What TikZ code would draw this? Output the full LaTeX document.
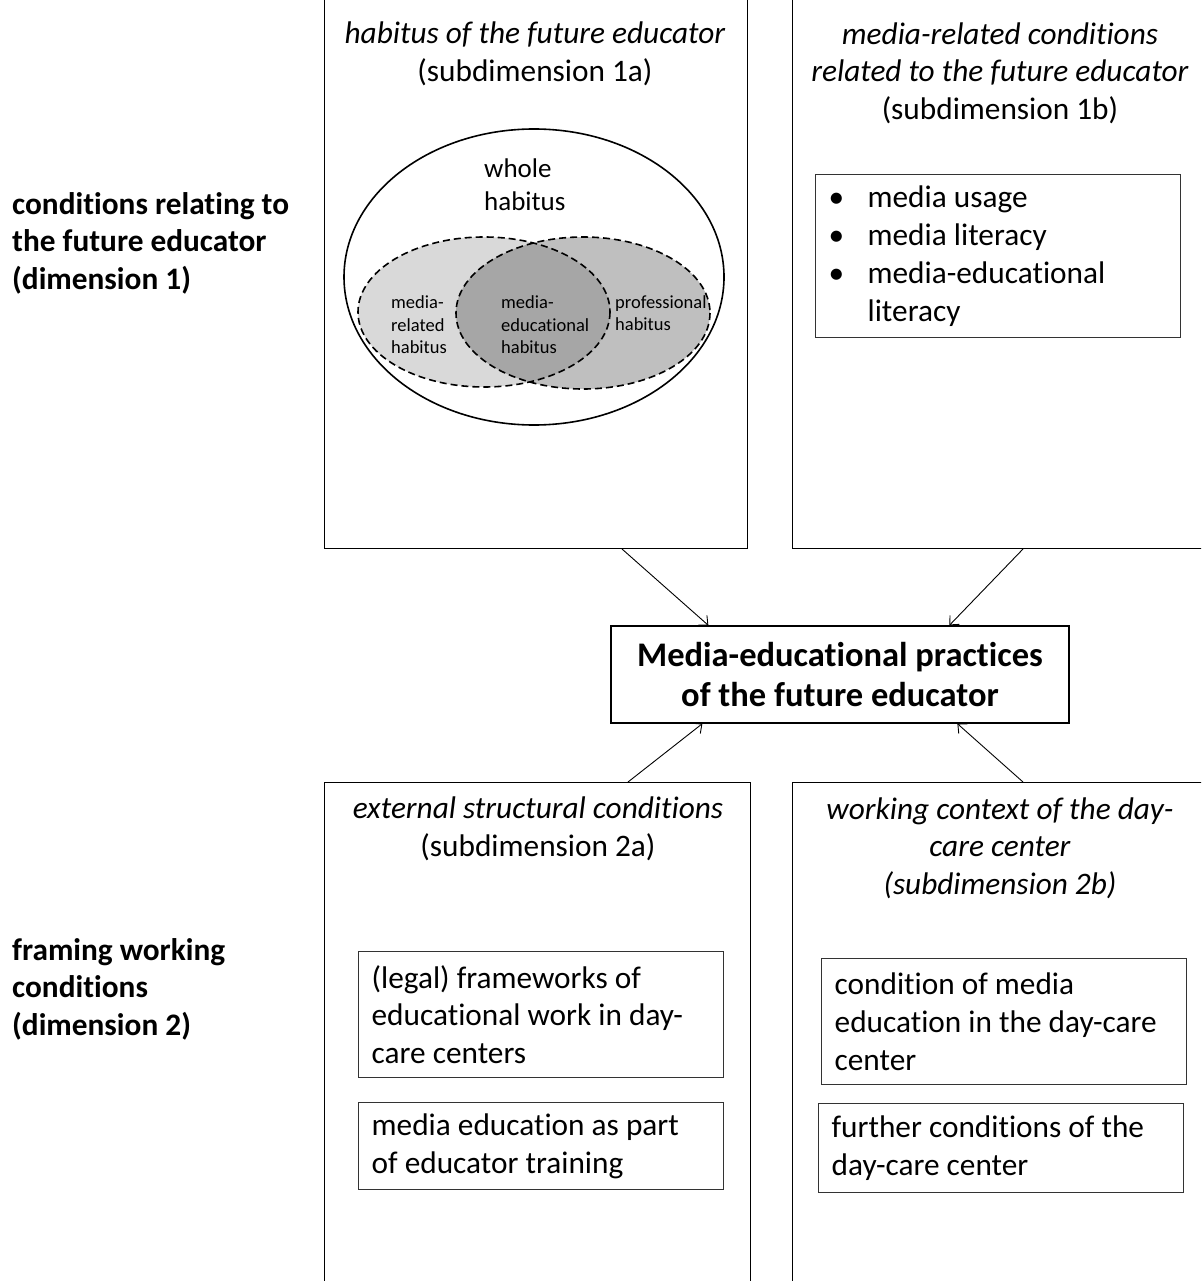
\documentclass[tikz,border=0pt]{standalone}
\usepackage{fontspec}
\setmainfont{Carlito}[Ligatures=NoCommon]
\usetikzlibrary{calc,arrows.meta}
\definecolor{venlight}{RGB}{217,217,217}
\definecolor{venmid}{RGB}{191,191,191}
\definecolor{vendark}{RGB}{166,166,166}
\tikzset{
  frame/.style={draw,line width=1.3pt,inner sep=0pt},
  itembox/.style={draw=black!80,line width=1.3pt,anchor=north west,minimum width=365pt,inner xsep=13pt,inner ysep=0pt,text width=339pt,align=flush left,font=\fontsize{31.3}{37.7}\selectfont},
  title/.style={align=center,font=\fontsize{31.3}{37.5}\selectfont},
  dimlabel/.style={anchor=west,align=flush left,inner sep=0pt,font=\fontsize{31.3}{37.5}\selectfont\bfseries},
  vensmall/.style={anchor=west,align=flush left,inner sep=0pt,font=\fontsize{18.5}{22.5}\selectfont},
  venline/.style={line width=1.6pt,dash pattern=on 7pt off 4pt},
}
\newcommand{\itm}{\makebox[39pt][l]{\textbullet}}

\begin{document}
\begin{tikzpicture}[x=1pt,y=-1pt,>={Straight Barb[length=7pt,width=13pt]}]
  \useasboundingbox (0,0) rectangle (1201,1281);
  \clip (0,0) rectangle (1201,1281);
  % dimension labels
  \node[dimlabel] (dim1) at (12,243) {conditions relating to\\the future educator\\(dimension 1)};
  \node[dimlabel] (dim2) at (12,989) {framing working\\conditions\\(dimension 2)};
  % subdimension frames
  \node[frame,minimum width=423pt,minimum height=560pt,anchor=south west] (sub1a) at (324,549) {};
  \node[frame,minimum width=440pt,minimum height=560pt,anchor=south west] (sub1b) at (792,549) {};
  \node[frame,minimum width=426pt,minimum height=520pt,anchor=north west] (sub2a) at (324,782) {};
  \node[frame,minimum width=440pt,minimum height=520pt,anchor=north west] (sub2b) at (792,782) {};
  \node[title] (t1a) at (535,54) {\textit{habitus of the future educator}\\(subdimension 1a)};
  \node[title] (t1b) at (1000,73) {\textit{media-related conditions}\\\textit{related to the future educator}\\(subdimension 1b)};
  \node[title] (t2a) at (538,829) {\textit{external structural conditions}\\(subdimension 2a)};
  \node[title] (t2b) at (1000,848) {\textit{working context of the day-}\\\textit{care center}\\\textit{(subdimension 2b)}};
  % habitus
  \fill[venlight] (484,312) ellipse [x radius=126,y radius=75];
  \fill[venmid] (583,313) ellipse [x radius=127,y radius=76];
  \begin{scope}
    \clip (484,312) ellipse [x radius=126,y radius=75];
    \fill[vendark] (583,313) ellipse [x radius=127,y radius=76];
  \end{scope}
  \draw[venline] (484,312) ellipse [x radius=126,y radius=75];
  \draw[venline] (583,313) ellipse [x radius=127,y radius=76];
  \draw[line width=1.6pt] (534,277) ellipse [x radius=190,y radius=148];
  \node[anchor=west,align=flush left,inner sep=0pt,font=\fontsize{27}{33}\selectfont] (whole) at (484,185) {whole\\habitus};
  \node[vensmall] (mrel) at (391,325) {media-\\related\\habitus};
  \node[vensmall] (medu) at (501,325) {media-\\educational\\habitus};
  \node[vensmall] (prof) at (615,313) {professional\\habitus};
  % items
  \node[itembox,minimum height=163pt] (usage) at (815,174) {\itm media usage\\\itm media literacy\\\itm media-educational\\\hspace*{39pt}literacy};
  \node[itembox,minimum height=126pt] (legal) at (358,951) {(legal) frameworks of\\educational work in day-\\care centers};
  \node[itembox,minimum height=87pt] (train) at (358,1102) {media education as part\\of educator training};
  \node[itembox,minimum height=126pt] (cond) at (821,958) {condition of media\\education in the day-care\\center};
  \node[itembox,minimum height=89pt] (further) at (818,1103) {further conditions of the\\day-care center};
  % practices
  \node[frame,minimum width=458pt,minimum height=97pt,align=center,font=\fontsize{34.5}{40}\selectfont\bfseries] (practice) at (840,674.5) {Media-educational practices\\of the future educator};
  \draw[->,line width=0.9pt] ($(sub1a.south west)+(298,0)$) -- ($(practice.north west)+(98,0)$);
  \draw[->,line width=0.9pt] ($(sub1b.south west)+(231,0)$) -- ($(practice.north west)+(339,0)$);
  \draw[->,line width=0.9pt] ($(sub2a.north west)+(304,0)$) -- ($(practice.south west)+(92,0)$);
  \draw[->,line width=0.9pt] ($(sub2b.north west)+(231,0)$) -- ($(practice.south west)+(347,0)$);
\end{tikzpicture}
\end{document}
